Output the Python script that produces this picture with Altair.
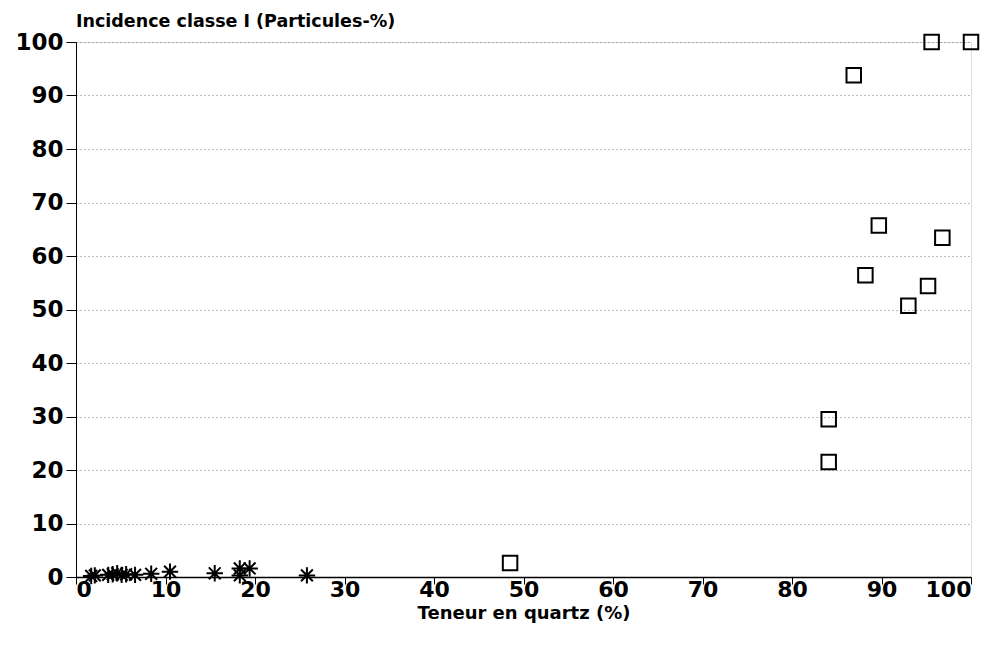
import altair as alt
import pandas as pd

sq_x = [48.5, 84.1, 84.1, 86.9, 88.2, 89.7, 93.0, 95.2, 96.8, 95.6, 100.0]
sq_y = [2.6, 21.5, 29.5, 93.8, 56.4, 65.7, 50.7, 54.4, 63.4, 100.0, 100.0]

ast_x = [1.7, 2.1, 3.6, 4.1, 4.6, 5.1, 5.6, 6.6, 8.4, 10.5, 15.5, 18.3, 18.3, 19.4, 25.8]
ast_y = [0.2, 0.3, 0.4, 0.5, 0.7, 0.4, 0.5, 0.4, 0.6, 1.0, 0.7, 0.3, 1.6, 1.6, 0.3]

ticks = list(range(0, 101, 10))

sq = pd.DataFrame({"x": sq_x, "y": sq_y})
ast = pd.DataFrame({"x": ast_x, "y": ast_y})

FONT = "DejaVu Sans"

xs = alt.Scale(domain=[0, 100], nice=False)
ys = alt.Scale(domain=[0, 100], nice=False)

xax = alt.Axis(values=ticks, title="Teneur en quartz (%)", grid=False,
               labelFontSize=22, labelFontWeight="bold", labelColor="black",
               titleFontSize=18, titleFontWeight="bold", titleColor="black",
               labelFont=FONT, titleFont=FONT, tickColor="black", domainColor="black",
               domainWidth=1.5, tickSize=7, labelPadding=-5, titlePadding=4,
               labelOverlap=False)
yax = alt.Axis(values=ticks, title=None, grid=True, gridColor="#777777",
               gridDash=[1, 3], gridWidth=1,
               labelFontSize=23, labelFontWeight="bold", labelColor="black",
               labelFont=FONT, tickColor="black", domainColor="black",
               domainWidth=1, tickSize=10, labelPadding=3, labelBaseline="middle")

base_sq = alt.Chart(sq).mark_point(shape="square", filled=False, color="black",
                                   strokeWidth=2, size=210, opacity=1).encode(
    x=alt.X("x:Q", scale=xs, axis=xax),
    y=alt.Y("y:Q", scale=ys, axis=yax),
)

star_path = "M-1,0L1,0M0,-1L0,1M-0.72,-0.72L0.72,0.72M-0.72,0.72L0.72,-0.72"
base_ast = alt.Chart(ast).mark_point(shape=star_path, filled=False, color="black",
                                     strokeWidth=2, size=270, opacity=1).encode(
    x=alt.X("x:Q", scale=xs),
    y=alt.Y("y:Q", scale=ys),
)

chart = alt.layer(base_sq, base_ast).properties(
    width=895, height=535,
    autosize=alt.AutoSizeParams(type="none"),
    padding={"left": 68, "top": 34, "right": 20, "bottom": 70},
    title=alt.TitleParams("Incidence classe I (Particules-%)", anchor="start",
                          frame="group", fontSize=17.5, fontWeight="bold",
                          font=FONT, color="black", offset=0, dx=0),
).configure_view(stroke="black", strokeWidth=1.5).configure(background="white")

chart.save("out.html", embed_options={"renderer": "svg", "actions": False})
